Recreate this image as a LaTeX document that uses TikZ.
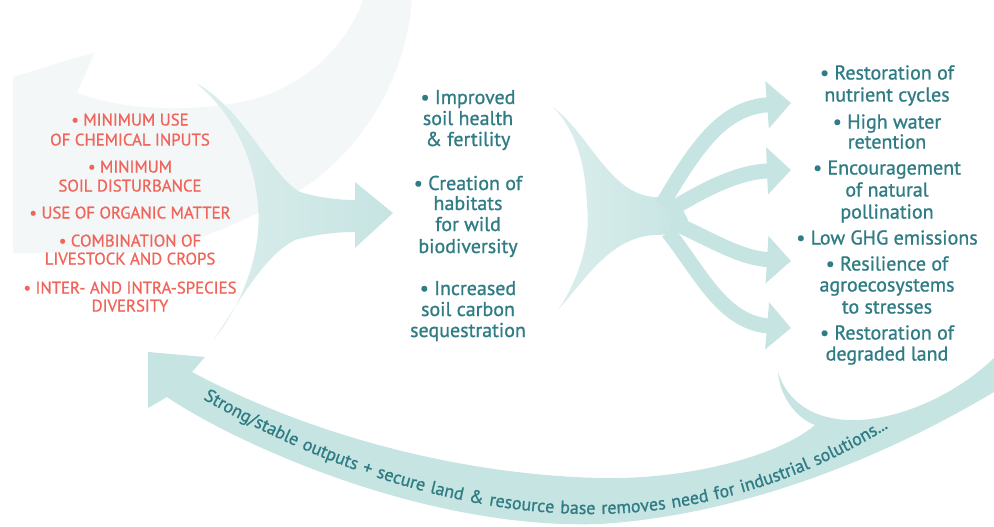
\documentclass[tikz,border=0pt]{standalone}
\usepackage{fontspec}
\setmainfont{PT Sans}
\newfontfamily\redfont[FakeBold=0.8]{PT Sans}
\newfontfamily\tealfont[FakeBold=1.0]{PT Sans}
\usetikzlibrary{arrows.meta,decorations.text}
\definecolor{arrowteal}{HTML}{C6E4E2}
\definecolor{arrowlight}{HTML}{DCEEED}
\definecolor{faintbg}{HTML}{F4F7F8}
\definecolor{tealtext}{HTML}{2F7C84}
\definecolor{redtext}{HTML}{F0645A}
\begin{document}
\begin{tikzpicture}[x=1pt,y=-1pt,
  redline/.style={anchor=base, text=redtext, font=\redfont\fontsize{16.8}{19}\selectfont, inner sep=0pt},
  tealline/.style={anchor=base, text=tealtext, font=\tealfont\fontsize{20}{21}\selectfont, inner sep=0pt},
  branch/.style={draw=arrowteal, line width=15pt, -{Triangle[length=24pt,width=46pt]}},
]
\useasboundingbox (0,0) rectangle (994,527);

% faint background arrow
\fill[faintbg] (13,77) -- (95,52) -- (77,93) .. controls (130,112) and (200,112) .. (250,100)
  .. controls (300,88) and (345,50) .. (363,0) -- (412,0)
  .. controls (405,90) and (350,160) .. (300,190)
  .. controls (240,225) and (180,250) .. (130,253) -- (13,253) -- cycle;

% left crescent arrow
\shade[left color=arrowlight, right color=arrowteal]
  (196,83) .. controls (245,110) and (270,175) .. (300,192)
  .. controls (320,198) and (340,200) .. (355,200) -- (355,182) -- (393,213) -- (355,248) -- (355,232)
  .. controls (330,232) and (310,236) .. (295,240)
  .. controls (265,255) and (240,300) .. (213,341)
  .. controls (245,300) and (262,250) .. (258,205)
  .. controls (254,160) and (235,115) .. (196,83) -- cycle;

% middle fish-shaped body
\shade[left color=arrowlight, right color=arrowteal]
  (553,107) .. controls (590,135) and (610,195) .. (655,197)
  .. controls (668,198) and (678,203) .. (684,212) -- (688,220) -- (684,228)
  .. controls (678,232) and (668,235) .. (655,235)
  .. controls (610,237) and (585,280) .. (558,310)
  .. controls (585,270) and (590,230) .. (587,205)
  .. controls (585,160) and (575,130) .. (553,107) -- cycle;

% branches
\coordinate (hub1) at (662,205); \coordinate (tip1) at (791,103);
\coordinate (hub2) at (670,210); \coordinate (tip2) at (791,170);
\coordinate (hub3) at (672,222); \coordinate (tip3) at (791,261);
\coordinate (hub4) at (668,232); \coordinate (tip4) at (791,328);
\draw[branch] (hub1) .. controls (700,140) and (725,108) .. (tip1);
\draw[branch] (hub2) .. controls (710,186) and (740,172) .. (tip2);
\draw[branch] (hub3) .. controls (712,240) and (740,258) .. (tip3);
\draw[branch] (hub4) .. controls (700,272) and (722,322) .. (tip4);

% bottom return band
\fill[arrowteal] (994,358) .. controls (950,400) and (890,422) .. (848,420)
  .. controls (805,418) and (785,395) .. (778,372)
  .. controls (780,400) and (800,420) .. (815,425)
  .. controls (780,455) and (690,480) .. (600,478)
  .. controls (470,475) and (320,440) .. (192,372)
  -- (205,357) -- (148,352) -- (148,408) -- (167,397)
  .. controls (230,440) and (420,530) .. (600,524)
  .. controls (740,515) and (880,460) .. (994,392) -- cycle;

\path[decorate, decoration={text along path,
   text={|\tealfont\fontsize{18}{18}\selectfont|Strong/stable outputs + secure land {\&} resource base removes need for industrial solutions...},
   text align={fit to path stretching spaces}, text color=tealtext}]
  (203,399) .. controls (330,472) and (470,516) .. (600,514)
  .. controls (720,512) and (820,470) .. (888,428);

% left red list
\node[redline] (r1) at (130,125.5) {• MINIMUM USE};
\node[redline] (r2) at (130,145.5) {OF CHEMICAL INPUTS};
\node[redline] (r3) at (130,172.5) {• MINIMUM};
\node[redline] (r4) at (130,191.5) {SOIL DISTURBANCE};
\node[redline] (r5) at (130,218.5) {• USE OF ORGANIC MATTER};
\node[redline] (r6) at (130,246.5) {• COMBINATION OF};
\node[redline] (r7) at (130,264.5) {LIVESTOCK AND CROPS};
\node[redline] (r8) at (130,293.5) {• INTER- AND INTRA-SPECIES};
\node[redline] (r9) at (130,311.5) {DIVERSITY};

% middle list
\node[tealline] (m1) at (468,104) {• Improved};
\node[tealline] (m2) at (468,125) {soil health};
\node[tealline] (m3) at (468,146) {\& fertility};
\node[tealline] (m4) at (468,190) {• Creation of};
\node[tealline] (m5) at (468,210) {habitats};
\node[tealline] (m6) at (468,231) {for wild};
\node[tealline] (m7) at (468,253) {biodiversity};
\node[tealline] (m8) at (468,295) {• Increased};
\node[tealline] (m9) at (468,316) {soil carbon};
\node[tealline] (m10) at (468,337) {sequestration};

% right list
\node[tealline] (o1) at (887,79.5) {• Restoration of};
\node[tealline] (o2) at (887,101.5) {nutrient cycles};
\node[tealline] (o3) at (887,128.5) {• High water};
\node[tealline] (o4) at (887,148.5) {retention};
\node[tealline] (o5) at (887,174.5) {• Encouragement};
\node[tealline] (o6) at (887,196.5) {of natural};
\node[tealline] (o7) at (887,218.5) {pollination};
\node[tealline] (o8) at (887,244.5) {• Low GHG emissions};
\node[tealline] (o9) at (887,270.5) {• Resilience of};
\node[tealline] (o10) at (887,291.5) {agroecosystems};
\node[tealline] (o11) at (887,313.5) {to stresses};
\node[tealline] (o12) at (887,339.5) {• Restoration of};
\node[tealline] (o13) at (887,360.5) {degraded land};
\end{tikzpicture}
\end{document}
